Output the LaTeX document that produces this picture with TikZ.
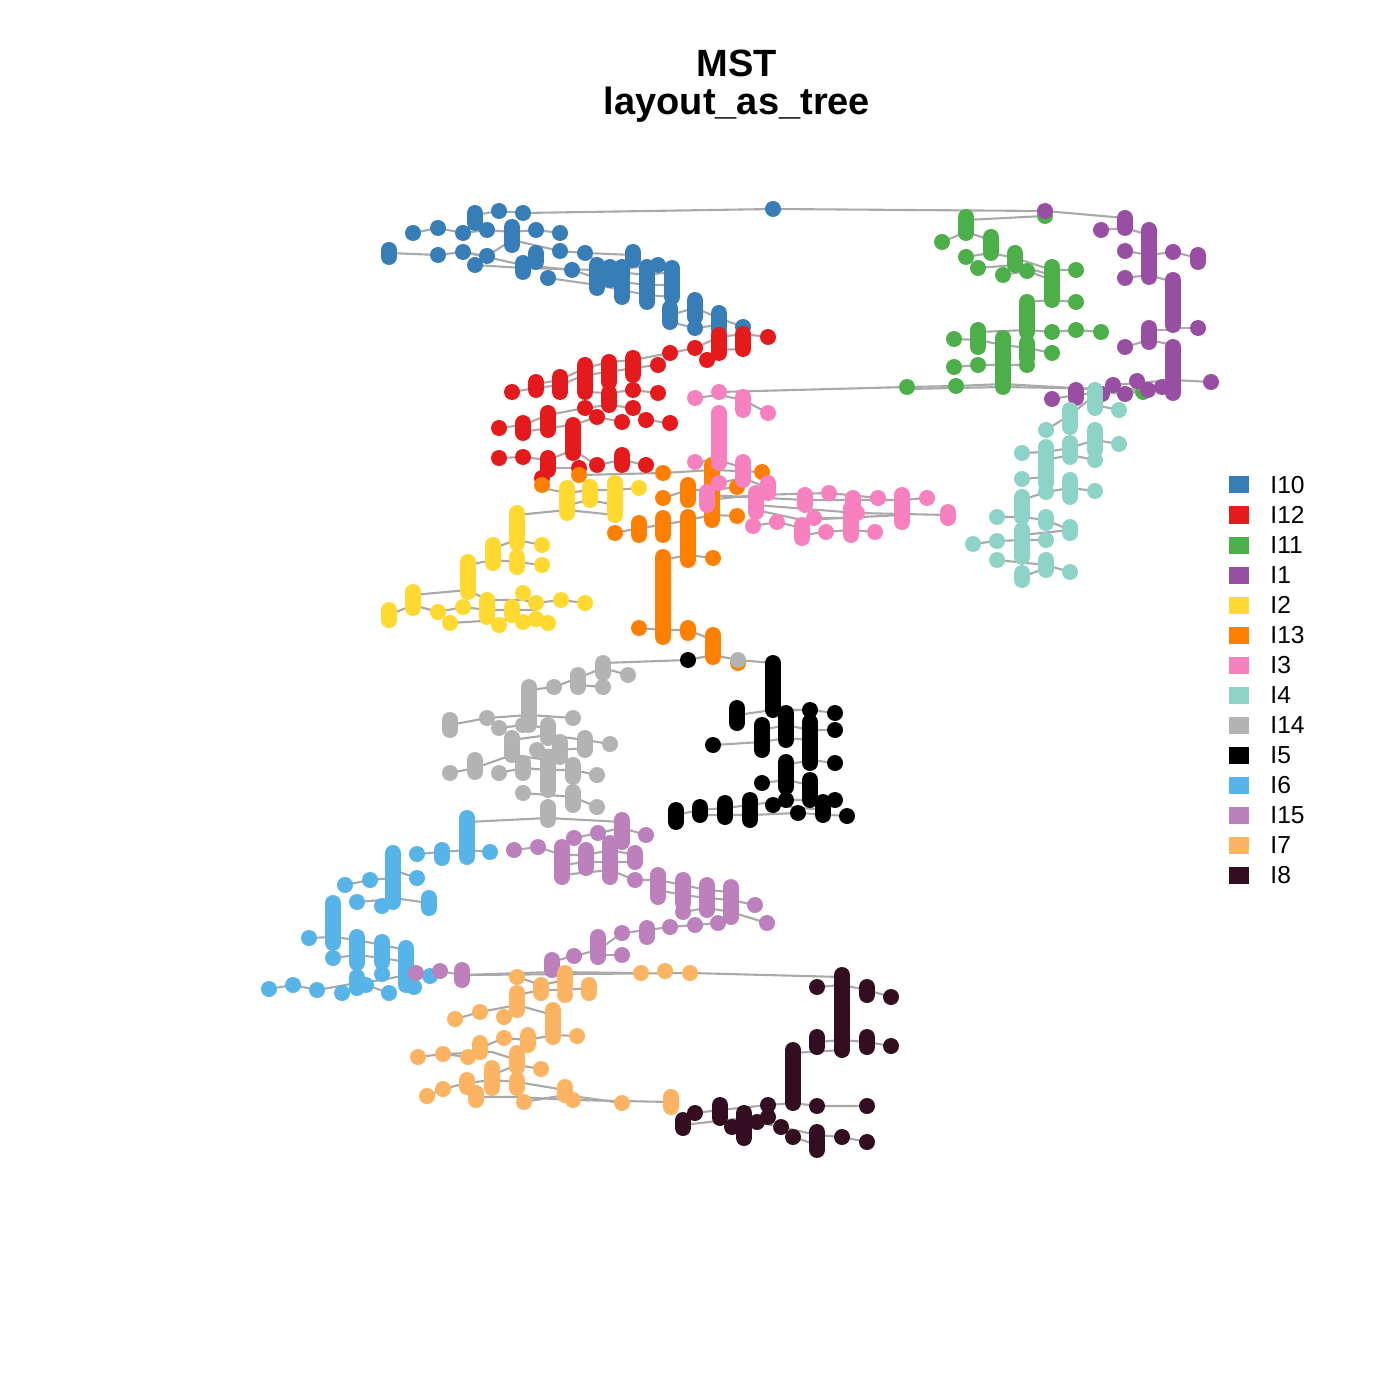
\documentclass[tikz,border=0pt]{standalone}
\usepackage{fontspec}
\setmainfont{Liberation Sans}
\definecolor{edgec}{RGB}{169,169,169}
\definecolor{cA}{RGB}{55,126,184}   % I10
\definecolor{cB}{RGB}{228,26,28}    % I12
\definecolor{cC}{RGB}{77,175,74}    % I11
\definecolor{cD}{RGB}{152,78,163}   % I1
\definecolor{cE}{RGB}{255,217,47}   % I2
\definecolor{cF}{RGB}{255,127,0}    % I13
\definecolor{cG}{RGB}{247,129,191}  % I3
\definecolor{cH}{RGB}{141,211,199}  % I4
\definecolor{cI}{RGB}{179,179,179}  % I14
\definecolor{cJ}{RGB}{0,0,0}        % I5
\definecolor{cK}{RGB}{86,180,233}   % I6
\definecolor{cL}{RGB}{188,128,189}  % I15
\definecolor{cM}{RGB}{253,180,98}   % I7
\definecolor{cN}{RGB}{51,14,32}     % I8
\newcommand\drawcluster[3]{%
  \foreach \px/\pa/\pb in {#3} \draw[#1, dotbar] (\px,\pa) -- (\px,\pb);
  \foreach \px/\py in {#2} \fill[#1] (\px,\py) circle (4pt);
}
\tikzset{
  edge/.style={draw=edgec, line width=1.05pt},
  dotbar/.style={line width=8pt, line cap=round},
  legsq/.style={minimum width=10pt, minimum height=8.5pt, inner sep=0pt},
  legtx/.style={anchor=west, font=\fontsize{12.3}{14}\selectfont, inner sep=0pt},
  title/.style={font=\bfseries\fontsize{19}{22}\selectfont, anchor=base, inner sep=0pt}
}
\begin{document}
\begin{tikzpicture}[x=0.5pt,y=-0.5pt]
\useasboundingbox (0,0) rectangle (1400,1400);
\fill[white] (0,0) rectangle (1400,1400);
\node[title] (t1) at (737,77) {MST};
\node[title] (t2) at (737,115) {layout\_as\_tree};

% ---------------- edges ----------------
% I10
\draw[edge] (1125,218) -- (1045,211) -- (773,209) -- (523,213) -- (499,211) -- (475,215);
\draw[edge] (413,233) -- (438,228) -- (463,233) -- (487,230) -- (512,232) -- (536,230) -- (560,233);
\draw[edge] (389,253) -- (438,255) -- (463,252) -- (487,256) -- (512,240) -- (560,251) -- (585,253) -- (633,255);
\draw[edge] (475,265) -- (523,268) -- (597,270) -- (647,275) -- (672,272);
\draw[edge] (463,252) -- (523,265) -- (572,270) -- (597,278) -- (622,282) -- (647,285) -- (672,285);
\draw[edge] (548,278) -- (597,285) -- (622,290) -- (647,295) -- (672,297);
\draw[edge] (585,253) -- (610,270) -- (658,265) -- (672,270);
\draw[edge] (633,258) -- (647,268);
\draw[edge] (670,315) -- (695,308) -- (719,318) -- (743,327);
\draw[edge] (670,322) -- (695,328) -- (719,325);
% I12
\draw[edge] (768,337) -- (743,334) -- (719,337) -- (695,348) -- (670,353) -- (633,360) -- (609,362) -- (585,368) -- (560,380) -- (536,384);
\draw[edge] (743,349) -- (719,350) -- (707,360);
\draw[edge] (658,365) -- (633,368) -- (609,372) -- (585,375) -- (560,385) -- (536,388) -- (512,392);
\draw[edge] (658,393) -- (633,390) -- (609,393) -- (585,392);
\draw[edge] (670,423) -- (646,420) -- (633,408) -- (609,405) -- (585,408) -- (548,415) -- (523,425) -- (499,428);
\draw[edge] (622,422) -- (597,417) -- (573,425) -- (548,428) -- (523,432);
\draw[edge] (646,465) -- (622,460) -- (597,465) -- (573,450) -- (548,460) -- (523,457) -- (499,458);
\draw[edge] (548,468) -- (579,468);
% I11
\draw[edge] (1045,216) -- (966,220);
\draw[edge] (942,242) -- (966,232) -- (991,240);
\draw[edge] (966,257) -- (991,253) -- (1015,258) -- (1052,270) -- (1076,270);
\draw[edge] (978,268) -- (1015,265) -- (1052,275);
\draw[edge] (1003,275) -- (1027,271) -- (1052,280);
\draw[edge] (1027,302) -- (1052,300) -- (1076,302);
\draw[edge] (978,332) -- (1027,330) -- (1052,332) -- (1076,330) -- (1101,332);
\draw[edge] (954,339) -- (978,340) -- (1003,345) -- (1027,348) -- (1052,353);
\draw[edge] (954,367) -- (978,365) -- (1003,365) -- (1027,365);
\draw[edge] (719,392) -- (907,387) -- (956,386) -- (1003,384) -- (1143,392);
\draw[edge] (907,389) -- (1003,387) -- (1173,390);
% I1
\draw[edge] (1101,230) -- (1125,228) -- (1149,235);
\draw[edge] (1125,251) -- (1149,255) -- (1173,252) -- (1198,258);
\draw[edge] (1125,278) -- (1149,275) -- (1173,282);
\draw[edge] (1173,328) -- (1198,328);
\draw[edge] (1125,347) -- (1149,340) -- (1173,345);
\draw[edge] (1149,330) -- (1173,330);
\draw[edge] (1113,385) -- (1173,380) -- (1211,382);
\draw[edge] (1052,399) -- (1076,395) -- (1102,392) -- (1125,394) -- (1148,390) -- (1173,392);
% I4
\draw[edge] (1095,395) -- (1070,415) -- (1046,430);
\draw[edge] (1119,410) -- (1095,405);
\draw[edge] (1119,444) -- (1095,440) -- (1070,448) -- (1046,452) -- (1022,453);
\draw[edge] (1095,460) -- (1070,455) -- (1046,460);
\draw[edge] (1095,491) -- (1070,488) -- (1046,492) -- (1022,500);
\draw[edge] (1022,479) -- (1046,477);
\draw[edge] (1070,530) -- (1046,520) -- (1022,517) -- (997,517);
\draw[edge] (973,544) -- (997,541) -- (1022,540) -- (1046,540);
\draw[edge] (1070,572) -- (1046,565) -- (997,560);
\draw[edge] (1022,577) -- (1046,568);
\draw[edge] (1070,530) -- (1022,535);
% I2
\draw[edge] (639,488) -- (615,490) -- (590,490) -- (567,493) -- (542,488);
\draw[edge] (615,505) -- (590,500) -- (567,505);
\draw[edge] (615,515) -- (567,510) -- (517,515);
\draw[edge] (542,545) -- (517,540) -- (493,548);
\draw[edge] (542,565) -- (517,562) -- (493,560) -- (468,565);
\draw[edge] (585,603) -- (561,600) -- (536,603) -- (523,600) -- (487,600) -- (468,590) -- (413,595);
\draw[edge] (389,615) -- (413,605) -- (438,612) -- (463,607) -- (487,610) -- (512,610) -- (536,610);
\draw[edge] (450,623) -- (499,620) -- (536,619) -- (548,623);
% I13
\draw[edge] (762,472) -- (713,470) -- (663,473) -- (579,475);
\draw[edge] (737,487) -- (713,490) -- (688,490) -- (663,498);
\draw[edge] (737,516) -- (713,515) -- (688,520) -- (663,525) -- (639,528) -- (615,533);
\draw[edge] (713,558) -- (688,555) -- (663,560);
\draw[edge] (639,628) -- (663,630) -- (688,630) -- (713,640);
\draw[edge] (603,663) -- (688,660) -- (713,655) -- (738,660) -- (773,663);
% I3
\draw[edge] (695,398) -- (719,395) -- (743,400) -- (768,413);
\draw[edge] (695,462) -- (719,460) -- (743,468);
\draw[edge] (719,483) -- (743,478) -- (768,488);
\draw[edge] (707,495) -- (805,500) -- (853,500) -- (902,500) -- (927,498);
\draw[edge] (707,500) -- (756,495) -- (829,493) -- (878,498);
\draw[edge] (756,505) -- (857,513) -- (948,515);
\draw[edge] (753,526) -- (777,522) -- (802,528) -- (814,518) -- (851,518);
\draw[edge] (802,535) -- (826,532) -- (851,530) -- (875,532);
\draw[edge] (756,510) -- (802,520) -- (902,515);
% I14
\draw[edge] (628,675) -- (603,668) -- (578,678) -- (554,687) -- (529,690);
\draw[edge] (603,687) -- (578,685);
\draw[edge] (450,725) -- (487,718) -- (529,715) -- (573,718);
\draw[edge] (499,728) -- (523,725) -- (548,728);
\draw[edge] (512,740) -- (548,735) -- (585,740) -- (610,744);
\draw[edge] (537,750) -- (560,750) -- (585,748);
\draw[edge] (450,773) -- (475,768) -- (512,755) -- (548,760);
\draw[edge] (499,773) -- (523,768) -- (548,770) -- (573,770) -- (597,775);
\draw[edge] (523,793) -- (548,795) -- (573,797) -- (597,807);
% I5
\draw[edge] (737,715) -- (773,710) -- (810,710) -- (835,713);
\draw[edge] (762,730) -- (786,725) -- (810,730) -- (835,730);
\draw[edge] (713,745) -- (762,742) -- (786,738) -- (810,740);
\draw[edge] (786,765) -- (810,760) -- (835,763);
\draw[edge] (762,783) -- (786,780) -- (810,785);
\draw[edge] (676,815) -- (700,810) -- (725,808) -- (750,805) -- (786,800) -- (835,800);
\draw[edge] (700,815) -- (750,815) -- (798,813) -- (847,816);
\draw[edge] (773,805) -- (823,810);
% I6
\draw[edge] (467,822) -- (548,818) -- (622,822);
\draw[edge] (417,854) -- (442,852) -- (467,850) -- (490,852);
\draw[edge] (393,870) -- (417,878);
\draw[edge] (345,885) -- (370,880) -- (393,878);
\draw[edge] (357,902) -- (382,900) -- (393,898) -- (429,903);
\draw[edge] (309,938) -- (333,937) -- (357,940) -- (382,945) -- (406,950);
\draw[edge] (333,958) -- (357,955) -- (382,958) -- (406,962);
\draw[edge] (269,989) -- (293,985) -- (317,990) -- (357,983) -- (382,980) -- (406,975) -- (430,976);
\draw[edge] (342,993) -- (366,985) -- (389,993);
\draw[edge] (414,987) -- (406,982);
% I15
\draw[edge] (514,850) -- (538,847) -- (562,855) -- (586,855) -- (610,850) -- (635,855);
\draw[edge] (574,838) -- (598,833) -- (622,828) -- (646,835);
\draw[edge] (562,865) -- (586,862) -- (610,862) -- (635,862);
\draw[edge] (562,875) -- (610,870) -- (635,880) -- (658,880) -- (683,885) -- (707,890) -- (731,892);
\draw[edge] (658,890) -- (683,895) -- (707,898) -- (731,900) -- (755,905);
\draw[edge] (683,912) -- (707,908) -- (731,912) -- (767,923);
\draw[edge] (550,962) -- (574,956) -- (598,950) -- (622,933) -- (647,930) -- (670,927) -- (695,925) -- (718,923) -- (731,917);
\draw[edge] (598,955) -- (622,955);
\draw[edge] (416,973) -- (440,971) -- (462,975) -- (553,972) -- (636,973);
% I7
\draw[edge] (467,975) -- (690,973) -- (842,977);
\draw[edge] (517,977) -- (541,985) -- (565,980);
\draw[edge] (517,995) -- (541,990) -- (565,990) -- (589,988);
\draw[edge] (455,1019) -- (480,1012) -- (517,1005) -- (553,1015);
\draw[edge] (418,1057) -- (443,1054) -- (468,1057) -- (480,1048) -- (504,1038) -- (528,1040) -- (553,1035) -- (577,1036);
\draw[edge] (443,1054) -- (492,1052) -- (517,1060);
\draw[edge] (492,1075) -- (517,1065) -- (541,1069);
\draw[edge] (427,1096) -- (443,1089) -- (467,1083) -- (492,1080) -- (517,1082) -- (565,1090);
\draw[edge] (476,1097) -- (517,1097) -- (573,1100) -- (671,1102);
\draw[edge] (524,1102) -- (565,1095) -- (622,1103);
% I8
\draw[edge] (817,987) -- (842,985) -- (867,990) -- (891,997);
\draw[edge] (817,1042) -- (842,1040) -- (867,1042) -- (891,1046);
\draw[edge] (793,1053) -- (842,1050);
\draw[edge] (793,1103) -- (817,1106) -- (867,1106);
\draw[edge] (695,1113) -- (720,1110) -- (768,1105) -- (793,1103);
\draw[edge] (683,1125) -- (744,1118) -- (768,1117);
\draw[edge] (732,1127) -- (757,1122) -- (781,1127) -- (817,1135) -- (842,1137) -- (867,1142);
\draw[edge] (793,1137) -- (817,1145);

% ---------------- vertices ----------------
\drawcluster{cA}{773/209, 499/211, 523/213, 413/233, 438/228, 463/233, 487/230, 536/230, 560/233, 438/255, 463/252, 487/256, 475/265, 560/251, 548/278, 572/270, 585/253, 658/265, 695/328, 743/327}
 {475/213/223, 512/227/245, 389/250/257, 523/263/272, 536/253/262, 633/252/260, 597/265/288, 610/267/280, 622/267/297, 647/267/302, 672/268/297, 670/308/322, 695/300/317, 719/313/330}
\drawcluster{cB}{768/337, 695/348, 707/360, 670/353, 658/365, 512/392, 633/390, 658/393, 585/408, 597/417, 622/422, 633/408, 646/420, 670/423, 499/428, 499/458, 523/457, 597/465, 646/465, 542/478, 579/468}
 {719/335/353, 743/334/349, 633/358/375, 609/362/382, 585/365/392, 560/377/392, 536/382/390, 609/393/405, 548/413/430, 523/423/433, 573/425/453, 548/458/470, 622/455/465}
\drawcluster{cC}{1045/216, 942/242, 966/257, 978/268, 1003/275, 1027/271, 1076/270, 1076/302, 1052/332, 1076/330, 1101/332, 954/339, 1052/353, 954/367, 978/365, 1027/365, 907/387, 956/386, 1143/392}
 {966/217/233, 991/237/253, 1015/253/265, 1052/267/300, 1027/302/332, 978/330/347, 1003/338/387, 1027/343/358}
\drawcluster{cD}{1045/211, 1101/230, 1125/251, 1173/252, 1125/278, 1198/328, 1125/347, 1211/382, 1113/385, 1137/381, 1125/394, 1148/390, 1162/387, 1052/399, 1102/394}
 {1125/218/228, 1149/230/277, 1198/255/262, 1173/280/325, 1149/328/342, 1173/347/393, 1076/390/398}
\drawcluster{cE}{639/488, 542/545, 542/565, 438/612, 450/623, 463/607, 499/625, 523/593, 523/622, 536/603, 536/619, 548/623, 561/600, 585/603}
 {567/488/513, 590/487/500, 615/483/515, 517/513/543, 493/545/563, 517/557/567, 468/562/592, 413/592/608, 389/610/620, 487/600/617, 512/607/615}
\drawcluster{cF}{663/473, 762/472, 579/475, 542/485, 663/498, 615/533, 713/558, 639/628, 737/487, 737/516, 713/655, 738/663}
 {712/465/520, 688/485/500, 663/518/535, 639/523/535, 688/517/560, 663/557/637, 688/628/633, 713/635/657}
\drawcluster{cG}{695/398, 719/392, 768/413, 695/462, 719/483, 829/493, 878/498, 927/498, 753/526, 777/522, 814/518, 826/532, 857/513, 875/532}
 {743/397/410, 719/413/463, 743/462/480, 707/492/505, 768/483/493, 756/493/512, 805/495/505, 853/498/505, 902/495/522, 948/512/518, 802/525/538, 851/508/535}
\drawcluster{cH}{1119/410, 1046/430, 1119/444, 1022/453, 1095/460, 1022/479, 1046/492, 1095/491, 997/517, 997/541, 973/544, 1046/540, 997/560, 1070/572}
 {1095/390/408, 1070/410/427, 1095/430/450, 1046/447/483, 1070/443/457, 1070/480/497, 1022/497/517, 1046/517/523, 1070/527/533, 1022/530/557, 1046/560/570, 1022/573/580}
\drawcluster{cI}{628/675, 603/687, 554/687, 487/718, 499/728, 523/725, 573/718, 537/750, 610/744, 450/773, 499/773, 597/775, 523/793, 597/807, 738/660}
 {603/663/673, 578/675/687, 529/687/725, 450/720/730, 548/725/738, 512/738/755, 560/742/757, 585/738/750, 475/760/772, 523/763/773, 548/757/790, 573/765/777, 573/792/805, 548/807/820}
\drawcluster{cJ}{688/660, 713/745, 810/710, 835/713, 835/730, 835/763, 762/783, 823/802, 835/800, 786/800, 773/805, 798/813, 847/816}
 {773/663/710, 737/708/723, 762/725/750, 786/713/740, 810/722/763, 786/762/787, 810/780/800, 750/800/820, 725/803/817, 700/807/815, 676/810/822, 823/807/815}
\drawcluster{cK}{490/852, 417/854, 417/878, 370/880, 345/885, 357/902, 382/906, 309/938, 333/958, 382/974, 366/985, 342/993, 389/993, 414/987, 317/990, 293/985, 269/989, 430/976}
 {467/818/857, 442/850/858, 393/853/902, 429/898/908, 333/903/943, 357/937/963, 382/942/962, 406/948/985, 357/977/988}
\drawcluster{cL}{598/833, 646/835, 574/838, 635/880, 514/850, 538/847, 683/912, 755/905, 767/923, 718/923, 695/925, 670/927, 622/933, 622/955, 574/956, 440/971, 416/973}
 {622/820/842, 562/847/877, 586/850/868, 610/843/877, 635/853/862, 658/875/897, 683/880/903, 707/885/910, 731/887/917, 647/928/937, 598/937/957, 552/960/970, 462/970/980}
\drawcluster{cM}{517/977, 641/973, 665/971, 690/973, 565/995, 455/1019, 480/1012, 504/1017, 577/1036, 504/1038, 443/1054, 418/1057, 468/1057, 541/1069, 443/1089, 427/1096, 524/1102, 573/1100, 622/1103}
 {565/973/987, 541/985/993, 589/985/993, 517/993/1010, 553/1010/1037, 528/1035/1045, 480/1043/1052, 517/1053/1067, 492/1068/1088, 467/1080/1087, 517/1080/1088, 476/1093/1100, 565/1087/1095, 671/1097/1107}
\drawcluster{cN}{817/987, 891/997, 891/1046, 817/1106, 867/1106, 695/1113, 757/1122, 768/1105, 768/1117, 732/1127, 781/1127, 793/1137, 842/1137, 867/1142}
 {842/975/1000, 867/987/995, 842/1003/1050, 817/1037/1047, 867/1037/1047, 793/1050/1103, 720/1105/1118, 683/1120/1128, 744/1113/1138, 817/1132/1150}

% ---------------- legend ----------------
\foreach \c/\t [count=\i from 0] in {cA/I10, cB/I12, cC/I11, cD/I1, cE/I2, cF/I13, cG/I3, cH/I4, cI/I14, cJ/I5, cK/I6, cL/I15, cM/I7, cN/I8} {
  \node[legsq, fill=\c] (sq\i) at (1239,485+30*\i) {};
  \node[legtx] (lt\i) at (1270,485+30*\i) {\t};
}
\end{tikzpicture}
\end{document}
